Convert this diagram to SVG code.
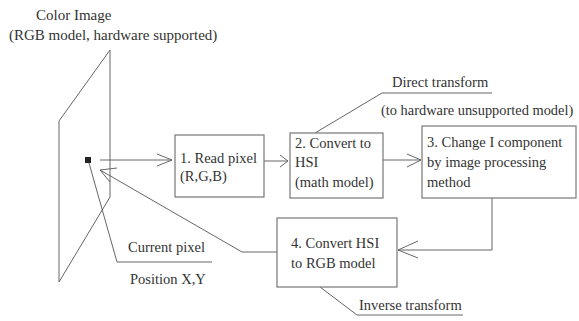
<svg xmlns="http://www.w3.org/2000/svg" width="579" height="321" viewBox="0 0 579 321">
<style>
text{font-family:"Liberation Serif","Times New Roman",serif;font-size:14.5px;fill:#333}
.ln{fill:none;stroke:#666;stroke-width:1}
.box{fill:#fff;stroke:#777;stroke-width:1.2}
</style>
<rect width="579" height="321" fill="#fff"/>
<g id="image-plane">
<polygon class="ln" points="59,121 110,50 110,197 59,282"/>
<rect x="85" y="157" width="6" height="6" fill="#222"/>
<text x="36" y="20" style="font-size:15px">Color Image</text>
<text x="9" y="40" style="font-size:15px">(RGB model, hardware supported)</text>
</g>
<g id="connectors">
<path class="ln" d="M100,160 H172 M157,154 L172,160 L157,166"/>
<path class="ln" d="M264,161 H288 M280,155 L288,161 L280,167"/>
<path class="ln" d="M383,160 H421 M407,154 L421,160 L407,167"/>
<path class="ln" d="M492,198 V250 H398 M418,241 L398,250 L418,258"/>
<path class="ln" d="M277,252 H242 L100,170 M117,168 L100,170 L110,182"/>
<path class="ln" d="M89,163 L117,262 H212"/>
<path class="ln" d="M315,133 L382,93 H492"/>
<path class="ln" d="M320,287 L357,315 H463"/>
</g>
<g id="node1">
<rect class="box" x="175" y="135" width="89" height="62"/>
<text x="180" y="163">1. Read pixel</text>
<text x="180" y="181">(R,G,B)</text>
</g>
<g id="node2">
<rect class="box" x="290" y="133" width="93" height="65"/>
<text x="295" y="148">2. Convert to</text>
<text x="295" y="167">HSI</text>
<text x="295" y="187">(math model)</text>
</g>
<g id="node3">
<rect class="box" x="422" y="126" width="154" height="72"/>
<text x="427" y="147">3. Change I component</text>
<text x="427" y="167">by image processing</text>
<text x="427" y="187">method</text>
</g>
<g id="node4">
<rect class="box" x="277" y="218" width="120" height="69"/>
<text x="291" y="248">4. Convert HSI</text>
<text x="291" y="268">to RGB model</text>
</g>
<g id="labels">
<text x="128" y="252">Current pixel</text>
<text x="130" y="284">Position X,Y</text>
<text x="392" y="87">Direct transform</text>
<text x="381" y="115" style="font-size:14.4px">(to hardware unsupported model)</text>
<text x="359" y="310">Inverse transform</text>
</g>
</svg>
